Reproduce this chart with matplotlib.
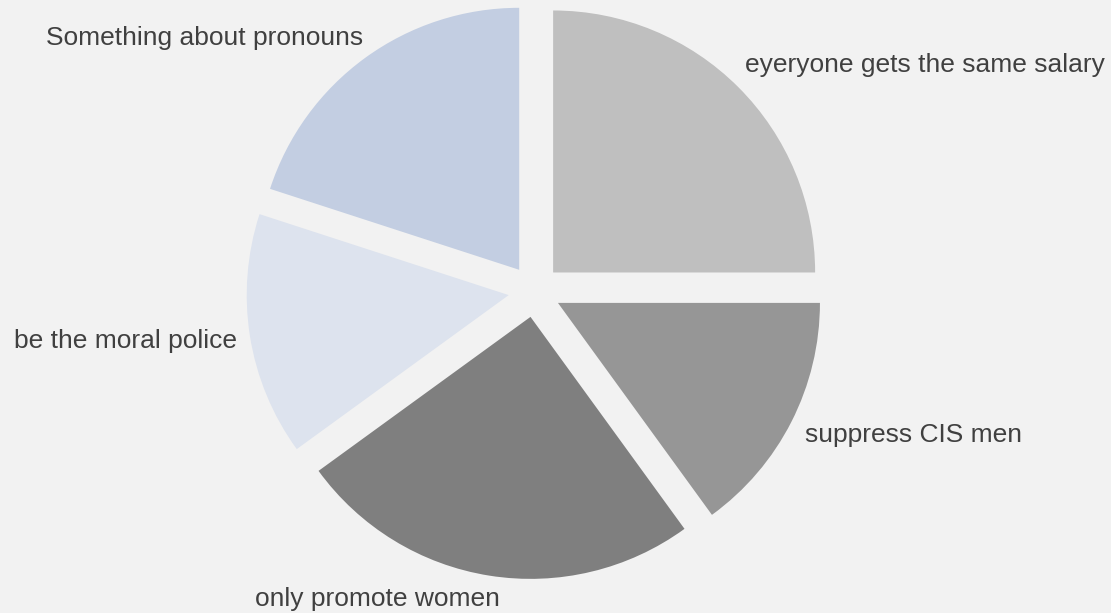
import matplotlib
matplotlib.use("Agg")
import matplotlib.pyplot as plt

# Survey answers and their shares (percent)
categories = [
    "eyeryone gets the same salary",
    "suppress CIS men",
    "only promote women",
    "be the moral police",
    "Something about pronouns",
]
shares = [25, 15, 25, 15, 20]
colors = ["#bfbfbf", "#969696", "#7f7f7f", "#dde3ee", "#c3cee2"]

# Label anchor points (data units, pie radius = 1) and alignment
label_pos = [(0.803, 0.836), (1.032, -0.576), (-1.067, -1.202),
             (-1.136, -0.218), (-0.655, 0.939)]
label_ha = ["left", "left", "left", "right", "right"]

plt.rcParams["font.family"] = ["Liberation Sans", "DejaVu Sans"]

W, H, DPI = 1111, 613, 100
fig = plt.figure(figsize=(W / DPI, H / DPI), dpi=DPI, facecolor="#f2f2f2")
ax = fig.add_axes([0, 0, 1, 1])
ax.set_facecolor("#f2f2f2")

R_PX = 262.0
CX, CY = 534.6, 291.0
ax.pie(shares, colors=colors, startangle=90, counterclock=False,
       explode=[0.1] * len(shares), radius=1.0,
       wedgeprops=dict(linewidth=0))

ax.set_xlim(-CX / R_PX, (W - CX) / R_PX)
ax.set_ylim(-(H - CY) / R_PX, CY / R_PX)
ax.set_aspect("equal")
ax.axis("off")

for text, (x, y), ha in zip(categories, label_pos, label_ha):
    ax.text(x, y, text, ha=ha, va="baseline", fontsize=19, color="#404040")

fig.savefig("out.png", dpi=DPI, facecolor=fig.get_facecolor())
